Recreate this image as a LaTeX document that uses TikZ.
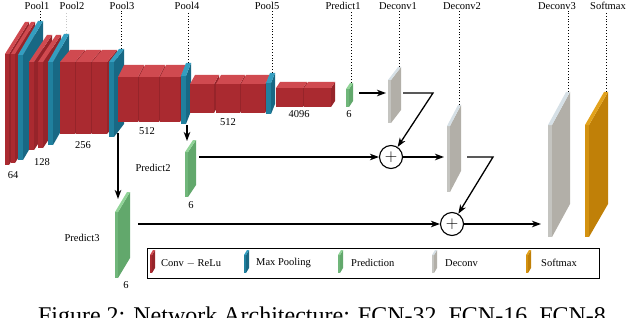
\documentclass[tikz,border=0pt]{standalone}
\usepackage{fontspec}
\setmainfont{Liberation Serif}
\usetikzlibrary{arrows.meta, positioning}

\definecolor{convF}{RGB}{170,42,48}
\definecolor{convS}{RGB}{150,36,42}
\definecolor{convT}{RGB}{208,74,80}
\definecolor{poolF}{RGB}{32,128,158}
\definecolor{poolS}{RGB}{24,104,132}
\definecolor{poolT}{RGB}{52,158,192}
\definecolor{predF}{RGB}{112,182,122}
\definecolor{predS}{RGB}{98,168,108}
\definecolor{predT}{RGB}{145,212,152}
\definecolor{dcvF}{RGB}{196,196,192}
\definecolor{dcvS}{RGB}{178,175,168}
\definecolor{dcvT}{RGB}{214,224,230}
\definecolor{softF}{RGB}{212,146,16}
\definecolor{softS}{RGB}{192,128,8}
\definecolor{softT}{RGB}{226,162,28}

% name, colour, x, top, width, height, depth offset
\newcommand{\slab}[7]{%
  \fill[#2S] (#3+#5,#4) -- ++(#7) -- ++(0,#6) -- (#3+#5,#4+#6) -- cycle;
  \fill[#2F] (#3,#4) rectangle ++(#5,#6);
  \fill[#2T] (#3,#4) -- ++(#7) -- ++(#5,0) -- (#3+#5,#4) -- cycle;
  \path (#3+#5/2,#4) ++(#7) coordinate (#1);
}

\begin{document}
\begin{tikzpicture}[
  x=1pt, y=-1pt,
  lab/.style={font=\fontsize{10.5}{12}\selectfont, inner sep=1pt},
  guide/.style={dotted, line width=0.9pt},
  arr/.style={-{Stealth[length=9pt, width=6.5pt, inset=2.5pt]}, line width=1.3pt},
  sum/.style={circle, draw, line width=1.1pt, minimum size=23pt, inner sep=0pt,
    font=\fontsize{16}{16}\selectfont}
]
\useasboundingbox (0,0) rectangle (628,318);

% encoder
\slab{c1}{conv}{5}{54}{4}{111}{20,-32}
\slab{c2}{conv}{11}{54}{4}{109}{20,-32}
\slab{p1}{pool}{18}{55}{5}{105}{20,-34}
\slab{c3}{conv}{29}{62}{5}{88}{18,-27}
\slab{c4}{conv}{38}{62}{5}{86}{18,-27}
\slab{p2}{pool}{48}{62}{5}{83}{16,-28}
\slab{c5}{conv}{60}{62}{15}{72}{10,-12}
\slab{c6}{conv}{76}{62}{15}{72}{10,-12}
\slab{c7}{conv}{92}{62}{15}{72}{10,-12}
\slab{p3}{pool}{109}{62}{5}{75}{10,-13}
\slab{c8}{conv}{118}{77}{20}{45}{6,-12}
\slab{c9}{conv}{139}{77}{20}{45}{6,-12}
\slab{c10}{conv}{160}{77}{20}{45}{6,-12}
\slab{p4}{pool}{181}{76}{5}{48}{5,-13}
\slab{c11}{conv}{190}{84}{24}{29}{5,-9}
\slab{c12}{conv}{216}{84}{24}{29}{5,-9}
\slab{c13}{conv}{241}{84}{24}{29}{5,-9}
\slab{p5}{pool}{266}{83}{5}{31}{4,-10}
\slab{c14}{conv}{276}{88}{27}{19}{4,-6}
\slab{c15}{conv}{304}{88}{27}{19}{4,-6}

% predictions, deconvolutions, softmax
\slab{pr1}{pred}{346}{89}{3}{18}{4,-6}
\slab{pr2}{pred}{185}{152}{3}{45}{8,-12}
\slab{pr3}{pred}{115}{212}{3}{66}{12,-20}
\slab{dc1}{dcv}{388}{80}{3}{43}{10,-13}
\slab{dc2}{dcv}{447}{126}{3}{66}{11,-21}
\slab{dc3}{dcv}{548}{125}{4}{112}{18,-33}
\slab{sm}{soft}{585}{125}{4}{112}{19,-33}

% top labels
\node[lab] (l-pool1) at (37,6) {Pool1};
\node[lab] (l-pool2) at (72,6) {Pool2};
\node[lab] (l-pool3) at (122,6) {Pool3};
\node[lab] (l-pool4) at (187,6) {Pool4};
\node[lab] (l-pool5) at (267,6) {Pool5};
\node[lab] (l-pred1) at (343,6) {Predict1};
\node[lab] (l-dc1) at (398,6) {Deconv1};
\node[lab] (l-dc2) at (462,6) {Deconv2};
\node[lab] (l-dc3) at (557,6) {Deconv3};
\node[lab] (l-sm) at (608,6) {Softmax};

\draw[guide] (p1) -- (p1 |- l-pool1.south);
\draw[guide, gray!45] (p2) -- (p2 |- l-pool2.south);
\draw[guide] (p3) -- (p3 |- l-pool3.south);
\draw[guide] (p4) -- (p4 |- l-pool4.south);
\draw[guide] (p5) -- (p5 |- l-pool5.south);
\draw[guide] (pr1) -- (pr1 |- l-pred1.south);
\draw[guide] (dc1) -- (dc1 |- l-dc1.south);
\draw[guide] (dc2) -- (dc2 |- l-dc2.south);
\draw[guide] (dc3) -- (dc3 |- l-dc3.south);
\draw[guide] (sm) -- (sm |- l-sm.south);

% channel counts
\node[lab] (n64) at (13,175) {64};
\node[lab] (n128) at (42,162) {128};
\node[lab] (n256) at (83,145) {256};
\node[lab] (n512a) at (147,131) {512};
\node[lab] (n512b) at (228,122) {512};
\node[lab] (n4096) at (299,114) {4096};
\node[lab] (n6a) at (349,114) {6};
\node[lab] (n6b) at (191,205) {6};
\node[lab] (n6c) at (126,285) {6};
\node[lab] (l-pred2) at (153,168) {Predict2};
\node[lab] (l-pred3) at (82,238) {Predict3};

% connectors
\node[sum] (sum1) at (391,157) {$+$};
\node[sum] (sum2) at (452,224) {$+$};
\coordinate (tap3) at (118,133);
\coordinate (hit3) at (118,199);
\coordinate (tap4) at (187,125);
\coordinate (hit4) at (187,141);
\coordinate (p1o) at (359,93);
\coordinate (d1i) at (386,93);
\coordinate (d1o) at (403,93);
\coordinate (k1) at (433,93);
\coordinate (p2o) at (199,157);
\coordinate (d2i) at (444,157);
\coordinate (d2o) at (467,157);
\coordinate (k2) at (493,157);
\coordinate (p3o) at (138,224);
\coordinate (d3i) at (541,224);

\draw[arr] (p1o) -- (d1i);
\draw[arr] (d1o) -- (k1) -- (sum1);
\draw[arr] (p2o) -- (sum1);
\draw[arr] (sum1) -- (d2i);
\draw[arr] (d2o) -- (k2) -- (sum2);
\draw[arr] (p3o) -- (sum2);
\draw[arr] (sum2) -- (d3i);
\draw[arr] (tap4) -- (hit4);
\draw[arr] (tap3) -- (hit3);

% legend
\node[draw, line width=0.9pt, minimum width=452pt, minimum height=30pt, inner sep=0pt] (legend) at (373,263) {};
\slab{sw1}{conv}{150}{255}{2}{18}{3,-5}
\slab{sw2}{pool}{244}{255}{2}{18}{3,-5}
\slab{sw3}{pred}{338}{255}{2}{18}{3,-5}
\slab{sw4}{dcv}{432}{255}{2}{18}{3,-5}
\slab{sw5}{soft}{526}{255}{2}{18}{3,-5}
\node[lab, anchor=west] (t1) at (160,263) {Conv $-$ ReLu};
\node[lab, anchor=west] (t2) at (255,263) {Max Pooling};
\node[lab, anchor=west] (t3) at (350,263) {Prediction};
\node[lab, anchor=west] (t4) at (444,263) {Deconv};
\node[lab, anchor=west] (t5) at (540,263) {Softmax};

\node[anchor=base, font=\fontsize{24}{28}\selectfont, inner sep=0pt] (caption) at (322,323)
  {Figure 2: Network Architecture: FCN-32, FCN-16, FCN-8};
\end{tikzpicture}
\end{document}
